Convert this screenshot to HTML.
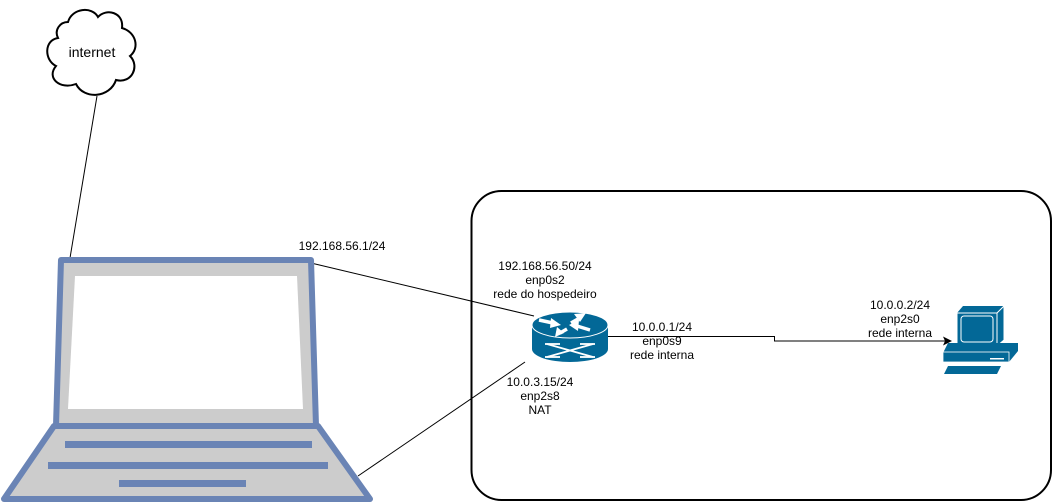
<!DOCTYPE html>
<html><head><meta charset="utf-8"><style>
html,body{margin:0;padding:0;background:#fff;}
svg{display:block;}
text{font-family:"Liberation Sans",sans-serif;font-size:12px;fill:#000;text-anchor:middle;}
</style></head><body>
<svg width="1053" height="503" viewBox="0 0 1053 503" xmlns="http://www.w3.org/2000/svg">
<rect x="471.5" y="191" width="579.5" height="309" rx="30" ry="30" fill="#fff" stroke="#000" stroke-width="2"/>
<line x1="70" y1="258" x2="97" y2="96" stroke="#000" stroke-width="1"/>
<line x1="311" y1="263" x2="534" y2="316" stroke="#000" stroke-width="1"/>
<line x1="358" y1="476" x2="525" y2="362" stroke="#000" stroke-width="1"/>
<polyline points="608,336.5 774.5,336.5 774.5,341 945,341" fill="none" stroke="#000" stroke-width="1"/>
<polygon points="952,341 943,336.5 945,341 943,345.5" fill="#000"/>
<path d="M68,22 C72,8 92,6 98,17 C106,8 124,12 122,28 C136,32 140,48 130,56 C140,66 132,84 116,80 C110,98 84,100 76,84 C60,90 46,78 56,66 C44,60 44,40 58,38 C54,30 60,22 68,22 Z" fill="#fff" stroke="#000" stroke-width="2"/>
<text x="92" y="57" style="font-size:14px">internet</text>
<polygon points="61,260 311,260 316,426 56,426" fill="#ccc" stroke="#6a84b5" stroke-width="6" stroke-linejoin="round"/>
<polygon points="75,276 297,276 303,409 68,409" fill="#fff"/>
<polygon points="54,426 318,426 370,499 4,499" fill="#ccc" stroke="#6a84b5" stroke-width="6" stroke-linejoin="round"/>
<rect x="65" y="441" width="247" height="7" fill="#6a84b5"/>
<rect x="48" y="462" width="280" height="7" fill="#6a84b5"/>
<rect x="119" y="480" width="127" height="7" fill="#6a84b5"/>
<path d="M532,325 L532,349 A38,13 0 0 0 608,349 L608,325 Z" fill="#036897"/>
<ellipse cx="570" cy="325" rx="38" ry="13" fill="#036897" stroke="#fff" stroke-width="1"/>
<g stroke="#fff" stroke-width="3.5" fill="#fff">
<line x1="539" y1="320" x2="553" y2="323"/>
<line x1="567" y1="329" x2="560" y2="333"/>
<line x1="590" y1="330" x2="577" y2="326"/>
<line x1="571" y1="323" x2="578" y2="319"/>
</g>
<g fill="#fff">
<polygon points="561,325 551,318 550,328"/>
<polygon points="555,337 557,327 564,333"/>
<polygon points="569,325 579,320 578,331"/>
<polygon points="586,313 574,314 580,322"/>
</g>
<g stroke="#fff" stroke-width="1.8" fill="none">
<line x1="547" y1="344" x2="593" y2="357"/>
<line x1="547" y1="357" x2="593" y2="344"/>
<line x1="545" y1="344" x2="560" y2="344"/>
<line x1="580" y1="344" x2="595" y2="344"/>
<line x1="545" y1="357" x2="560" y2="357"/>
<line x1="580" y1="357" x2="595" y2="357"/>
</g>
<polygon points="957,313 963,306 1004,306 1004,340 997,346 957,346" fill="#036897"/>
<polygon points="997,313 1004,306 1004,340 997,346" fill="#036897" stroke="#fff" stroke-width="1"/>
<rect x="957" y="313" width="40" height="33" fill="#036897" stroke="#fff" stroke-width="1"/>
<rect x="961" y="316" width="32" height="26" rx="3" fill="#036897" stroke="#fff" stroke-width="1"/>
<polygon points="943,353 948,343 1018,343 1018,351 1009,362 943,362" fill="#036897"/>
<rect x="943" y="352" width="66" height="10" fill="#036897" stroke="#fff" stroke-width="0.8"/>
<rect x="990" y="358" width="14" height="1.5" fill="#fff"/>
<polygon points="948,366 1001,366 997,374 944,374" fill="#036897"/>
<text x="342" y="250">192.168.56.1/24</text>
<text x="545" y="270">192.168.56.50/24</text>
<text x="545" y="284">enp0s2</text>
<text x="545" y="298">rede do hospedeiro</text>
<text x="662" y="331">10.0.0.1/24</text>
<text x="662" y="345">enp0s9</text>
<text x="662" y="359">rede interna</text>
<text x="900" y="309">10.0.0.2/24</text>
<text x="900" y="323">enp2s0</text>
<text x="900" y="337">rede interna</text>
<text x="540" y="386">10.0.3.15/24</text>
<text x="540" y="400">enp2s8</text>
<text x="540" y="414">NAT</text>
</svg>
</body></html>
